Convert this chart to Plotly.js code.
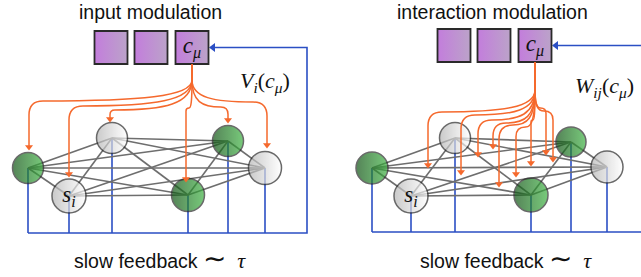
<!DOCTYPE html>
<html><head><meta charset="utf-8">
<script src="https://cdn.plot.ly/plotly-3.0.1.min.js"></script>
<style>html,body{margin:0;padding:0;background:#fff;}#plot{width:641px;height:277px;}</style>
</head><body><div id="plot"></div>
<script>
// ---------- data ----------
const panelTitles = ['input modulation', 'interaction modulation'];
const panelTitleX = [150, 492];
const modLabels = ['<i>V<sub>i</sub></i>(<i>c<sub>μ</sub></i>)', '<i>W<sub>ij</sub></i>(<i>c<sub>μ</sub></i>)'];
const modLabelX = [265, 604];
const modLabelY = [82, 87];
const feedbackX = [160, 506];
const boxText = ['', '', '<i>c<sub>μ</sub></i>'];

// boxes (context units)
const leftBoxX = [111, 151, 192];
const rightBoxX = [454, 494, 535];
const boxY = [47.5, 45.5];

// nodes
const nodeKind = ['green', 'white', 'white', 'green', 'green', 'white'];
const nodeLabel = ['', '', '<i>s<sub>i</sub></i>', '', '', ''];
const leftNodeX = [28, 112, 69, 188, 228, 265];
const leftNodeY = [168, 138, 196, 195, 141, 168];
const leftNodeSize = [31, 31, 34, 33, 31, 33];
const rightNodeX = [372, 455, 411, 531, 571, 607];
const rightNodeY = [168, 138, 196, 195, 142, 167];
const rightNodeSize = [32, 31, 34, 34, 30, 32];

// feedback bus
const leftBusY = 233, rightBusY = 232;
const leftReturnX = 307, rightReturnX = 645;

// modulation arrows (targets, horizontal level of each curve)
const leftTipX = [29, 69, 110, 186, 228, 267];
const leftTipY = [150, 177, 122, 182, 123, 148];
const leftLevel = [101, 106, 110, 108, 107, 102];
const rightTipX = [428, 461, 478, 493, 499, 516, 531, 546, 553];
const rightTipY = [168, 175, 157, 149, 187, 177, 166, 155, 162];
const rightLevel = [112, 115, 120, 123, 125, 127, 120, 108, 111];

// ---------- colours ----------
const BLUE = '#2b4fc4', ORANGE = '#f5692d', GRAY = '#6e6e6e', EDGE = '#2a2a2a';
const MATH = 'Liberation Serif, DejaVu Serif, serif';
const SANS = 'Liberation Sans, Arial, sans-serif';

const traces = [];
const shapes = [];
const annotations = [];

function curvePath(sx, sy, y0, tx, ty, h) {
  const dx = tx - sx;
  const dir = dx >= 0 ? 1 : -1;
  let r = Math.min(14, (ty - h) * 0.6, Math.abs(dx) / 2);
  const xm = tx - dir * r;
  let p = `M ${sx} ${sy} L ${sx} ${y0} `;
  p += `C ${sx} ${y0 + 0.8 * (h - y0)}, ${sx + 0.35 * (xm - sx)} ${h}, ${xm} ${h} `;
  p += `Q ${tx} ${h}, ${tx} ${h + r} L ${tx} ${ty}`;
  return p;
}

function addPanel(nx, ny, ns, boxX, by, busY, returnX, tipX, tipY, level, stemEnd) {
  // blue feedback lines
  const bx = [], byy = [];
  for (let i = 0; i < nx.length; i++) { bx.push(nx[i], nx[i], null); byy.push(ny[i], busY, null); }
  const minX = Math.min(...nx);
  bx.push(minX, returnX, returnX, boxX[2] + 20, null);
  byy.push(busY, busY, by, by, null);
  traces.push({x: bx, y: byy, mode: 'lines', line: {color: BLUE, width: 1.6}, hoverinfo: 'skip'});
  traces.push({x: [boxX[2] + 21], y: [by], mode: 'markers', marker: {symbol: 'triangle-left', size: 8, color: BLUE}, hoverinfo: 'skip'});
  // gray complete-graph edges
  const ex = [], ey = [];
  for (let i = 0; i < nx.length; i++) for (let j = i + 1; j < nx.length; j++) {
    ex.push(nx[i], nx[j], null); ey.push(ny[i], ny[j], null);
  }
  traces.push({x: ex, y: ey, mode: 'lines', line: {color: GRAY, width: 1.6}, hoverinfo: 'skip'});
  // nodes (horizontal gradient: marker.color at left, gradient.color at right)
  ['green', 'white'].forEach(kind => {
    const idx = nodeKind.map((k, i) => k === kind ? i : -1).filter(i => i >= 0);
    traces.push({
      x: idx.map(i => nx[i]), y: idx.map(i => ny[i]), mode: 'markers',
      marker: {
        size: idx.map(i => ns[i]),
        color: kind === 'green' ? '#0e5012' : '#b4b4b4',
        gradient: {type: 'horizontal', color: kind === 'green' ? '#3fb443' : '#ffffff'},
        line: {color: EDGE, width: 1.5}
      }, hoverinfo: 'skip'
    });
  });
  const li = nodeLabel.map((t, i) => t ? i : -1).filter(i => i >= 0);
  traces.push({x: li.map(i => nx[i]), y: li.map(i => ny[i]), text: li.map(i => nodeLabel[i]),
    mode: 'text', textposition: 'middle center', textfont: {family: MATH, size: 23, color: '#111'}, hoverinfo: 'skip'});
  // boxes
  traces.push({
    x: boxX, y: boxX.map(() => by), mode: 'markers',
    marker: {symbol: 'square', size: 33, color: '#c37ddc', gradient: {type: 'horizontal', color: '#bba3c9'}, line: {color: EDGE, width: 1.8}},
    hoverinfo: 'skip'
  });
  const bi = boxText.map((t, i) => t ? i : -1).filter(i => i >= 0);
  traces.push({x: bi.map(i => boxX[i]), y: bi.map(() => by), text: bi.map(i => boxText[i]),
    mode: 'text', textposition: 'middle center', textfont: {family: MATH, size: 23, color: '#111'}, hoverinfo: 'skip'});
  // orange curves
  const sx = boxX[2], sy = by + 17;
  for (let k = 0; k < tipX.length; k++) {
    shapes.push({type: 'path', xref: 'x', yref: 'y', layer: 'above',
      path: curvePath(sx, sy, stemEnd, tipX[k], tipY[k] - 4, level[k]),
      line: {color: ORANGE, width: 1.5}});
  }
  traces.push({x: tipX, y: tipY.map(v => v - 3), mode: 'markers',
    marker: {symbol: 'triangle-down', size: 7, color: ORANGE}, hoverinfo: 'skip'});
}

addPanel(leftNodeX, leftNodeY, leftNodeSize, leftBoxX, boxY[0], leftBusY, leftReturnX, leftTipX, leftTipY, leftLevel, 80);
addPanel(rightNodeX, rightNodeY, rightNodeSize, rightBoxX, boxY[1], rightBusY, rightReturnX, rightTipX, rightTipY, rightLevel, 90);

for (let p = 0; p < 2; p++) {
  annotations.push({x: panelTitleX[p], y: 12, xref: 'x', yref: 'y', text: panelTitles[p], showarrow: false,
    font: {family: SANS, size: 19.5, color: '#111'}});
  annotations.push({x: modLabelX[p], y: modLabelY[p], xref: 'x', yref: 'y', text: modLabels[p], showarrow: false,
    font: {family: MATH, size: 22, color: '#111'}});
  annotations.push({x: feedbackX[p], y: 258, xref: 'x', yref: 'y', showarrow: false,
    text: 'slow feedback <span style="font-family:DejaVu Sans;font-size:28px">∼</span>  <span style="font-family:Liberation Serif;font-size:22px"><i>τ</i></span>',
    font: {family: SANS, size: 19.5, color: '#111'}});
}

const layout = {
  width: 641, height: 277, margin: {l: 0, r: 0, t: 0, b: 0},
  paper_bgcolor: '#fff', plot_bgcolor: '#fff', showlegend: false,
  xaxis: {range: [0, 641], visible: false, fixedrange: true},
  yaxis: {range: [277, 0], visible: false, fixedrange: true},
  shapes: shapes, annotations: annotations
};
Plotly.newPlot('plot', traces, layout, {staticPlot: true, displayModeBar: false});
</script></body></html>
